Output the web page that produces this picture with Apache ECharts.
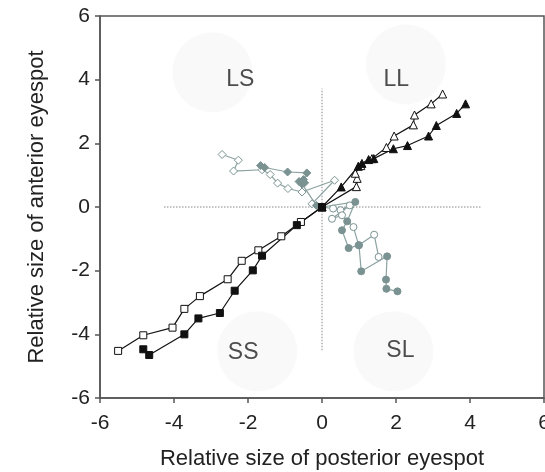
<!DOCTYPE html>
<html>
<head>
<meta charset="utf-8">
<script src="https://cdn.jsdelivr.net/npm/echarts@6/dist/echarts.min.js"></script>
<style>html,body{margin:0;padding:0;background:#fff;}#c{width:545px;height:472px;}</style>
</head>
<body>
<div id="c"></div>
<script>
// Axis ticks
var xTicks = [-6, -4, -2, 0, 2, 4, 6];
var yTicks = [-6, -4, -2, 0, 2, 4, 6];

// LL selection lines (triangles)
var llOpen = [[0,0],[0.93,0.64],[0.95,0.9],[0.9,1.06],[1.05,1.3],[1.35,1.52],[1.74,1.87],[1.95,2.23],[2.47,2.58],[2.5,2.89],[2.95,3.24],[3.26,3.55]];
var llFilled = [[0,0],[0.52,0.63],[0.98,1.28],[1.08,1.37],[1.26,1.49],[1.4,1.52],[1.93,1.83],[2.31,1.93],[2.88,2.23],[3.09,2.56],[3.64,2.94],[3.88,3.24]];

// SS selection lines (squares)
var ssOpen = [[0,0],[-0.57,-0.47],[-1.1,-0.92],[-1.72,-1.36],[-2.17,-1.69],[-2.55,-2.27],[-3.3,-2.8],[-3.72,-3.2],[-4.04,-3.79],[-4.83,-4.03],[-5.51,-4.52]];
var ssFilled = [[0,0],[-0.68,-0.57],[-1.62,-1.53],[-1.87,-1.99],[-2.36,-2.63],[-2.76,-3.33],[-3.34,-3.5],[-3.72,-4.0],[-4.67,-4.65],[-4.83,-4.47]];

// LS selection lines (diamonds)
var lsOpen = [[0,0],[-0.27,0.1],[0.34,0.84],[-0.54,0.47],[-0.92,0.58],[-1.2,0.75],[-1.4,1.02],[-1.62,1.17],[-2.39,1.13],[-2.26,1.47],[-2.7,1.65]];
var lsFilled = [[0,0],[-0.15,0.05],[-0.54,0.72],[-0.62,0.8],[-0.47,0.76],[-0.5,0.86],[-0.41,1.07],[-0.93,1.1],[-1.55,1.24],[-1.66,1.3]];

// SL selection lines (circles)
var slOpen = [[0,0],[0.3,-0.05],[0.5,-0.1],[0.75,0.05],[0.27,-0.37],[0.54,-0.26],[0.85,-0.63],[0.99,-1.2],[1.41,-0.87],[1.53,-1.57]];
var slFilled = [[0,0],[0.9,0.16],[0.68,-0.45],[0.54,-0.73],[0.72,-1.29],[1.0,-1.2],[1.06,-2.02],[1.76,-1.55],[1.73,-2.28],[1.74,-2.57],[2.04,-2.65]];

// Quadrant annotations
var quadNames = ['LS', 'LL', 'SS', 'SL'];
var quadCircles = [[-2.96,4.23],[2.27,4.48],[-1.75,-4.53],[1.93,-4.53]];
var quadLabels = [[-2.21,4.01],[2.01,4.01],[-2.13,-4.56],[2.12,-4.5]];

// Dotted reference lines
var hRef = [[-4.27,0],[4.29,0]];
var vRef = [[0,-4.5],[0,3.72]];

var BLACK = '#111';
var GRAY = '#7a9392';
var GRAYLINE = '#8ba2a1';
var FONT = 'Liberation Sans, Arial, sans-serif';

function trace(name, data, symbol, size, filled, color, lineColor) {
  return {
    name: name, type: 'line', data: data, symbol: symbol, symbolSize: size,
    showSymbol: true, animation: false, z: 5,
    lineStyle: {color: lineColor, width: 1.2},
    itemStyle: {color: filled ? color : '#fff', borderColor: color, borderWidth: 1}
  };
}

var chart = echarts.init(document.getElementById('c'), null, {renderer: 'canvas'});
var axisCommon = {
  type: 'value', min: -6, max: 6, interval: 2,
  axisLine: {show: true, onZero: false, lineStyle: {color: '#555', width: 1.5}},
  axisTick: {show: true, inside: false, length: 5, lineStyle: {color: '#555', width: 1.5}},
  splitLine: {show: false},
  axisLabel: {color: '#222', fontSize: 21, fontFamily: FONT},
  nameLocation: 'middle',
  nameTextStyle: {color: '#222', fontSize: 22, fontFamily: FONT}
};
chart.setOption({
  animation: false,
  backgroundColor: '#fff',
  grid: {left: 100, right: 1, top: 16, bottom: 74, show: true, borderColor: '#555', borderWidth: 1.5,
         containLabel: false, outerBoundsMode: 'none'},
  xAxis: Object.assign({}, axisCommon, {name: 'Relative size of posterior eyespot', nameGap: 50,
    axisLabel: Object.assign({}, axisCommon.axisLabel, {margin: 15})}),
  yAxis: Object.assign({}, axisCommon, {name: 'Relative size of anterior eyespot', nameGap: 52,
    axisLabel: Object.assign({}, axisCommon.axisLabel, {margin: 10})}),
  series: [
    {type: 'scatter', data: quadCircles, symbol: 'circle', symbolSize: 80, z: 1, silent: true,
     itemStyle: {color: '#f7f7f9'}},
    {type: 'scatter', data: quadLabels.map(function (p, i) { return {value: p, name: quadNames[i]}; }),
     symbolSize: 0, z: 2, silent: true,
     label: {show: true, position: 'inside', formatter: '{b}', color: '#222', fontSize: 23, fontFamily: FONT}},
    {type: 'line', data: hRef, symbol: 'none', z: 3, lineStyle: {color: '#888', width: 1, type: [1.5, 1.5]}},
    {type: 'line', data: vRef, symbol: 'none', z: 3, lineStyle: {color: '#888', width: 1, type: [1.5, 1.5]}},
    trace('LS open', lsOpen, 'diamond', 8, false, GRAY, GRAYLINE),
    trace('LS filled', lsFilled, 'diamond', 8, true, GRAY, GRAYLINE),
    trace('SL open', slOpen, 'circle', 7, false, GRAY, GRAYLINE),
    trace('SL filled', slFilled, 'circle', 7, true, GRAY, GRAYLINE),
    trace('LL open', llOpen, 'triangle', 8, false, BLACK, BLACK),
    trace('LL filled', llFilled, 'triangle', 8, true, BLACK, BLACK),
    trace('SS open', ssOpen, 'rect', 7, false, BLACK, BLACK),
    trace('SS filled', ssFilled, 'rect', 7, true, BLACK, BLACK)
  ]
});
</script>
</body>
</html>
